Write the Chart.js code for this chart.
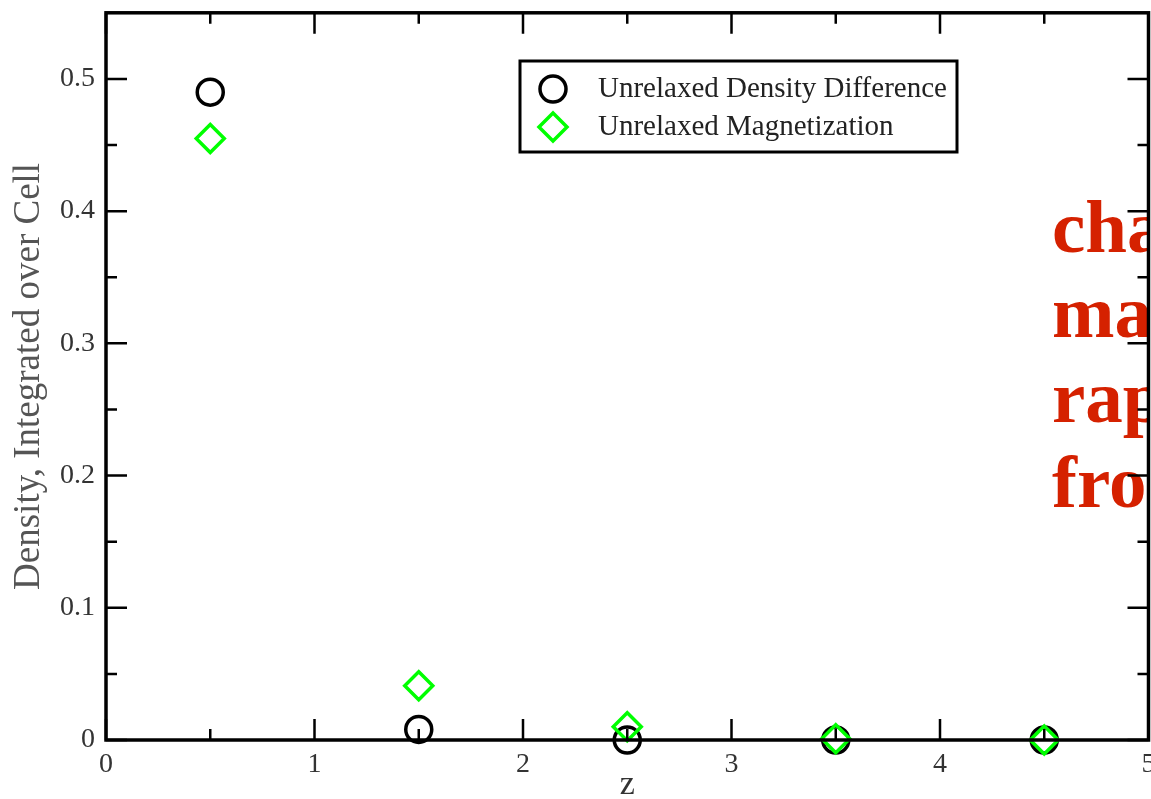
<!DOCTYPE html>
<html>
<head>
<meta charset="utf-8">
<script src="https://cdn.jsdelivr.net/npm/chart.js@4.4.1/dist/chart.umd.min.js"></script>
<style>
  html, body { margin: 0; padding: 0; background: #fff; overflow: hidden; }
  #wrap { position: relative; width: 1151px; height: 799px; overflow: hidden; }
  #note {
    position: absolute; left: 1052px; top: 184px; width: 96px; overflow: hidden;
    font: bold 75px/85px "Liberation Serif", serif; color: #d52100; white-space: nowrap;
  }
  /* canvas is a bit bigger and shifted up, so the frame lands on the page edge */
  #chart { position: absolute; left: 0; top: -15px; }
</style>
</head>
<body>
<div id="wrap">
  <div id="note">cha<br>ma<br>rap<br>fro</div>
  <canvas id="chart" width="1166" height="814"></canvas>
</div>
<script>
// positions along z
const zValues = [0.5, 1.5, 2.5, 3.5, 4.5];
// integrated over cell
const densityDiff = [0.49, 0.008, 0.0, 0.0, 0.0];
const magnetization = [0.455, 0.041, 0.010, 0.001, 0.0];

const seriesLabels = ['Unrelaxed Density Difference', 'Unrelaxed Magnetization'];

// axis ticks
const xTicks = [0, 1, 2, 3, 4, 5];
const xMinor = [0.5, 1.5, 2.5, 3.5, 4.5];
const yTicks = [0, 0.1, 0.2, 0.3, 0.4, 0.5];
const yMinor = [0.05, 0.15, 0.25, 0.35, 0.45];
const yTickLabels = ['0', '0.1', '0.2', '0.3', '0.4', '0.5'];

const serif = '"Liberation Serif", "Times New Roman", serif';

// draws the box + inward ticks on all four sides, after the markers
const framePlugin = {
  id: 'frame',
  afterDatasetsDraw(chart) {
    const { ctx, chartArea: a, scales: { x, y } } = chart;
    ctx.save();
    ctx.strokeStyle = '#000';
    ctx.lineWidth = 2.5;
    ctx.beginPath();
    const tickX = (v, len) => {
      const px = x.getPixelForValue(v);
      ctx.moveTo(px, a.bottom); ctx.lineTo(px, a.bottom - len);
      ctx.moveTo(px, a.top); ctx.lineTo(px, a.top + len);
    };
    const tickY = (v, len) => {
      const py = y.getPixelForValue(v);
      ctx.moveTo(a.left, py); ctx.lineTo(a.left + len, py);
      ctx.moveTo(a.right, py); ctx.lineTo(a.right - len, py);
    };
    xTicks.forEach(v => tickX(v, 21));
    xMinor.forEach(v => tickX(v, 11));
    yTicks.forEach(v => tickY(v, 21));
    yMinor.forEach(v => tickY(v, 11));
    ctx.stroke();
    ctx.lineWidth = 3.5;
    ctx.strokeRect(a.left, a.top, a.right - a.left, a.bottom - a.top);
    ctx.restore();
  }
};

// boxed legend inside the plot (canvas is shifted 15px up)
const legendPlugin = {
  id: 'boxLegend',
  afterDraw(chart) {
    const { ctx } = chart;
    ctx.save();
    ctx.lineWidth = 3;
    ctx.strokeStyle = '#000';
    ctx.strokeRect(520, 76, 437, 91);
    const rows = [104, 142];
    chart.data.datasets.forEach((ds, i) => {
      const cy = rows[i];
      ctx.strokeStyle = ds.borderColor;
      ctx.lineWidth = ds.borderWidth;
      ctx.beginPath();
      if (ds.pointStyle === 'circle') {
        ctx.arc(553, cy, 13, 0, Math.PI * 2);
      } else {
        ctx.moveTo(553, cy - 14); ctx.lineTo(567, cy);
        ctx.lineTo(553, cy + 14); ctx.lineTo(539, cy); ctx.closePath();
      }
      ctx.stroke();
      ctx.fillStyle = '#222';
      ctx.font = '29px ' + serif;
      ctx.textBaseline = 'middle';
      ctx.fillText(ds.label, 598, cy);
    });
    ctx.restore();
  }
};

const ctx = document.getElementById('chart').getContext('2d');

const chart = new Chart(ctx, {
  type: 'scatter',
  data: {
    datasets: [{
      label: seriesLabels[0],
      data: zValues.map((z, i) => ({ x: z, y: densityDiff[i] })),
      pointStyle: 'circle',
      pointRadius: 13,
      borderColor: '#000',
      borderWidth: 3.5,
      backgroundColor: 'rgba(0,0,0,0)',
      order: 1,
      clip: false
    }, {
      label: seriesLabels[1],
      data: zValues.map((z, i) => ({ x: z, y: magnetization[i] })),
      pointStyle: 'rectRot',
      pointRadius: 14,
      borderColor: '#00ff00',
      borderWidth: 3.5,
      backgroundColor: 'rgba(0,0,0,0)',
      order: 0,
      clip: false
    }]
  },
  options: {
    responsive: false,
    animation: false,
    layout: { padding: 0 },
    plugins: {
      legend: { display: false },
      tooltip: { enabled: false }
    },
    scales: {
      x: {
        type: 'linear',
        min: 0,
        max: 5,
        grid: { display: false, drawTicks: false },
        border: { display: false },
        afterBuildTicks: s => { s.ticks = xTicks.map(v => ({ value: v })); },
        afterFit: s => { s.height = 59; },
        ticks: {
          maxRotation: 0,
          padding: 8,
          color: '#333',
          font: { family: serif, size: 28 }
        },
        title: {
          display: true,
          text: 'z',
          color: '#333',
          font: { family: serif, size: 34, lineHeight: 0.8 },
          padding: 0
        }
      },
      y: {
        type: 'linear',
        min: 0,
        max: 0.55,
        grid: { display: false, drawTicks: false },
        border: { display: false },
        afterBuildTicks: s => { s.ticks = yTicks.map(v => ({ value: v })); },
        afterFit: s => { s.width = 106; },
        ticks: {
          padding: 11,
          color: '#333',
          font: { family: serif, size: 28 },
          callback: (v) => yTickLabels[yTicks.indexOf(v)] ?? ''
        },
        title: {
          display: true,
          text: 'Density, Integrated over Cell',
          color: '#555',
          font: { family: serif, size: 37 },
          padding: { top: 7 }
        }
      }
    }
  },
  plugins: [framePlugin, legendPlugin]
});
</script>
</body>
</html>
